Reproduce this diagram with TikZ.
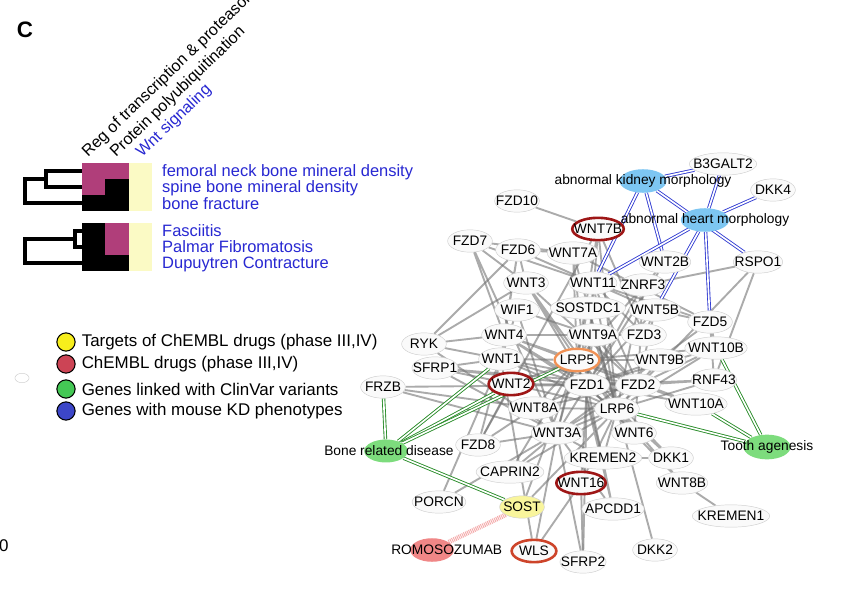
\documentclass[tikz,border=0pt]{standalone}
\usepackage{fontspec}
\setmainfont{Liberation Sans}
\usetikzlibrary{shapes.geometric,backgrounds,positioning}

\definecolor{hmpink}{RGB}{176,62,122}
\definecolor{hmcream}{RGB}{251,250,197}
\definecolor{txtblue}{RGB}{40,40,210}
\definecolor{nodeline}{RGB}{208,208,208}
\definecolor{nodefill}{RGB}{250,250,250}
\definecolor{drugred}{RGB}{158,22,22}
\definecolor{wlsred}{RGB}{205,68,42}
\definecolor{lrporange}{RGB}{240,145,85}
\definecolor{sostyellow}{RGB}{249,245,156}
\definecolor{kdblue}{RGB}{125,198,242}
\definecolor{cvgreen}{RGB}{125,220,125}
\definecolor{romopink}{RGB}{240,135,135}
\definecolor{linkgray}{RGB}{115,115,115}
\definecolor{kdline}{RGB}{50,60,210}
\definecolor{cvline}{RGB}{40,140,40}
\definecolor{legyellow}{RGB}{247,238,28}
\definecolor{legred}{RGB}{204,68,85}
\definecolor{leggreen}{RGB}{68,200,85}
\definecolor{legblue}{RGB}{60,70,200}

\begin{document}
\begin{tikzpicture}[x=0.85pt,y=-0.85pt,
  gene/.style={draw=nodeline, fill=nodefill, shape=ellipse, inner xsep=-5pt,
    inner ysep=0pt, minimum width=38pt, minimum height=19pt,
    font=\fontsize{11.7}{13}\selectfont},
  drug/.style={gene, draw=drugred, line width=2.2pt},
  attr/.style={shape=ellipse, inner sep=0pt, minimum width=40pt, minimum height=20pt},
  attrtext/.style={font=\fontsize{11.7}{13}\selectfont, inner sep=0pt},
  link/.style={draw=linkgray, line width=1.6pt, opacity=0.6},
  kdlink/.style={draw=kdline, double=white, double distance=1.4pt, line width=0.75pt},
  cvlink/.style={draw=cvline, double=white, double distance=1.4pt, line width=0.75pt},
  romolink/.style={draw=romopink, line width=4pt, dash pattern=on 0.8pt off 0.8pt, opacity=0.7},
  rowlabel/.style={anchor=west, inner sep=0pt, text=txtblue, font=\fontsize{14}{16}\selectfont},
  collabel/.style={anchor=base west, inner sep=0pt, rotate=44, font=\fontsize{13.7}{15}\selectfont},
  legdot/.style={draw=black, line width=0.9pt, shape=circle, minimum size=15.5pt, inner sep=0pt},
  legtext/.style={anchor=west, inner sep=0pt, font=\fontsize{14.4}{16}\selectfont}]
\useasboundingbox (0,0) rectangle (860,595);
\begin{pgfonlayer}{background}
\fill[white] (0,0) rectangle (860,595);
\end{pgfonlayer}

\node (panelc) [font=\bfseries\fontsize{19}{20}\selectfont] at (25,30) {C};

% heatmap
\fill[hmpink] (82,163) rectangle (128.7,179);
\fill[hmpink] (82,179) rectangle (105.3,195);
\fill[black] (105.3,179) rectangle (128.7,195);
\fill[black] (82,195) rectangle (128.7,211);
\fill[hmcream] (128.7,163) rectangle (152,211);
\fill[black] (82,223) rectangle (105.3,271);
\fill[hmpink] (105.3,223) rectangle (128.7,255);
\fill[black] (105.3,255) rectangle (128.7,271);
\fill[hmcream] (128.7,223) rectangle (152,271);
\draw[line width=3pt] (82,171) -| (46,187) -- (82,187);
\draw[line width=3pt] (46,179) -| (25,203) -- (82,203);
\draw[line width=3pt] (82,231) -| (75,247) -- (82,247);
\draw[line width=3pt] (75,239) -| (25,263) -- (82,263);

\node (colreg) [collabel] at (88,158) {Reg of transcription \& proteasome};
\node (colpoly) [collabel] at (116,158) {Protein polyubiquitination};
\node (colwnt) [collabel, text=txtblue] at (142,158) {Wnt signaling};

\node (rowfemoral) [rowlabel] at (162,172) {femoral neck bone mineral density};
\node (rowspine) [rowlabel] at (162,188) {spine bone mineral density};
\node (rowfracture) [rowlabel] at (162,204) {bone fracture};
\node (rowfasc) [rowlabel] at (162,231) {Fasciitis};
\node (rowpalmar) [rowlabel] at (162,247) {Palmar Fibromatosis};
\node (rowdupuy) [rowlabel] at (162,264) {Dupuytren Contracture};

% legend
\node (legtarget) [legdot, fill=legyellow] at (66,342) {};
\node (legdrug) [legdot, fill=legred] at (66,364) {};
\node (legclinvar) [legdot, fill=leggreen] at (66,389) {};
\node (legkd) [legdot, fill=legblue] at (66,411) {};
\node [legtext, right=5pt of legtarget] {Targets of ChEMBL drugs (phase III,IV)};
\node [legtext, right=5pt of legdrug] {ChEMBL drugs (phase III,IV)};
\node [legtext, right=5pt of legclinvar] {Genes linked with ClinVar variants};
\node [legtext, right=5pt of legkd] {Genes with mouse KD phenotypes};

\node (blank) [draw=nodeline, fill=white, shape=ellipse, minimum width=12pt,
  minimum height=8pt, inner sep=0pt] at (22,378) {};
\node (axiszero) [anchor=west, inner sep=0pt, font=\fontsize{14.4}{16}\selectfont] at (-1,546) {0};

% network
\node (fzd10) [gene] at (517,201) {FZD10};
\node (fzd7) [gene] at (470,241) {FZD7};
\node (fzd6) [gene] at (518,250) {FZD6};
\node (wnt7a) [gene] at (573,253) {WNT7A};
\node (wnt2b) [gene] at (665,262) {WNT2B};
\node (rspo1) [gene] at (758,262) {RSPO1};
\node (b3galt2) [gene] at (723,164) {B3GALT2};
\node (dkk4) [gene] at (773,190) {DKK4};
\node (wnt3) [gene] at (526,283) {WNT3};
\node (wnt11) [gene] at (593,283) {WNT11};
\node (znrf3) [gene] at (643,285) {ZNRF3};
\node (wif1) [gene] at (517,310) {WIF1};
\node (sostdc1) [gene] at (588,308) {SOSTDC1};
\node (wnt5b) [gene] at (655,310) {WNT5B};
\node (fzd5) [gene] at (710,322) {FZD5};
\node (wnt4) [gene] at (504,335) {WNT4};
\node (wnt9a) [gene] at (593,335) {WNT9A};
\node (fzd3) [gene] at (644,335) {FZD3};
\node (ryk) [gene] at (424,344) {RYK};
\node (wnt10b) [gene] at (716,348) {WNT10B};
\node (wnt1) [gene] at (501,359) {WNT1};
\node (sfrp1) [gene] at (435,368) {SFRP1};
\node (wnt9b) [gene] at (660,360) {WNT9B};
\node (frzb) [gene] at (383,387) {FRZB};
\node (fzd1) [gene] at (587,385) {FZD1};
\node (fzd2) [gene] at (638,385) {FZD2};
\node (rnf43) [gene] at (714,380) {RNF43};
\node (wnt8a) [gene] at (534,408) {WNT8A};
\node (lrp6) [gene] at (617,409) {LRP6};
\node (wnt10a) [gene] at (696,404) {WNT10A};
\node (fzd8) [gene] at (478,445) {FZD8};
\node (wnt3a) [gene] at (557,433) {WNT3A};
\node (wnt6) [gene] at (634,433) {WNT6};
\node (kremen2) [gene] at (603,458) {KREMEN2};
\node (dkk1) [gene] at (671,458) {DKK1};
\node (caprin2) [gene] at (510,472) {CAPRIN2};
\node (wnt8b) [gene] at (682,483) {WNT8B};
\node (porcn) [gene] at (439,502) {PORCN};
\node (apcdd1) [gene] at (613,509) {APCDD1};
\node (kremen1) [gene] at (731,516) {KREMEN1};
\node (sfrp2) [gene] at (583,562) {SFRP2};
\node (dkk2) [gene] at (655,550) {DKK2};
\node (sost) [gene, fill=sostyellow] at (522,507) {SOST};
\node (lrp5) [gene, draw=lrporange, line width=2pt] at (577,360) {LRP5};
\node (wls) [gene, draw=wlsred, line width=2.2pt] at (534,551) {WLS};
\node (wnt7b) [drug] at (598,229) {WNT7B};
\node (wnt2) [drug] at (511,384) {WNT2};
\node (wnt16) [drug] at (581,483) {WNT16};

\node (kidney) [attr, fill=kdblue, label={[attrtext]center:abnormal kidney morphology}] at (643,181) {};
\node (heart) [attr, fill=kdblue, minimum width=41pt, label={[attrtext]center:abnormal heart morphology}] at (705,220) {};
\node (bone) [attr, fill=cvgreen, minimum width=37pt, minimum height=19.5pt,
  label={[attrtext, xshift=2.5pt]center:Bone related disease}] at (386,451) {};
\node (tooth) [attr, fill=cvgreen, minimum height=21pt, label={[attrtext]center:Tooth agenesis}] at (767,447) {};
\node (romo) [attr, fill=romopink, minimum width=37pt,
  label={[attrtext, xshift=12.5pt]center:ROMOSOZUMAB}] at (432,550) {};

\begin{pgfonlayer}{background}
\draw[link] (fzd10) -- (wnt7b);
\draw[link] (fzd7) -- (wnt3) (fzd7) -- (wnt4) (fzd7) -- (wnt11) (fzd7) -- (wnt7a) (fzd7) -- (wnt3a);
\draw[link] (fzd6) -- (wnt7a) (fzd6) -- (wnt11) (fzd6) -- (wnt3) (fzd6) -- (ryk) (fzd6) -- (wnt4) (fzd6) -- (wnt5b) (fzd6) -- (wnt1);
\draw[link] (wnt7a) -- (fzd1) (wnt7a) -- (fzd5) (wnt7a) -- (lrp5) (wnt7a) -- (lrp6);
\draw[link] (wnt7b) -- (fzd1) (wnt7b) -- (lrp5) (wnt7b) -- (lrp6) (wnt7b) -- (fzd3) (wnt7b) -- (fzd8);
\draw[link] (wnt3) -- (fzd1) (wnt3) -- (fzd2) (wnt3) -- (lrp5) (wnt3) -- (lrp6) (wnt3) -- (ryk);
\draw[link] (wnt11) -- (fzd3) (wnt11) -- (fzd5) (wnt11) -- (fzd2) (wnt11) -- (lrp6) (wnt11) -- (fzd1);
\draw[link] (wif1) -- (wnt3a) (wif1) -- (wnt9a) (wif1) -- (wnt1);
\draw[link] (sostdc1) -- (lrp5) (sostdc1) -- (lrp6) (sostdc1) -- (wnt3a);
\draw[link] (ryk) -- (wnt1) (ryk) -- (wnt4) (ryk) -- (wnt3a);
\draw[link] (wnt4) -- (fzd1) (wnt4) -- (fzd2) (wnt4) -- (lrp5) (wnt4) -- (lrp6) (wnt4) -- (fzd3);
\draw[link] (wnt1) -- (fzd1) (wnt1) -- (fzd2) (wnt1) -- (lrp5) (wnt1) -- (lrp6) (wnt1) -- (fzd8) (wnt1) -- (wls);
\draw[link] (sfrp1) -- (wnt1) (sfrp1) -- (wnt2) (sfrp1) -- (fzd1) (sfrp1) -- (wnt3a) (sfrp1) -- (fzd2);
\draw[link] (frzb) -- (wnt8a) (frzb) -- (fzd1) (frzb) -- (wnt3a);
\draw[link] (wnt2) -- (fzd1) (wnt2) -- (lrp5) (wnt2) -- (lrp6) (wnt2) -- (fzd8) (wnt2) -- (fzd2);
\draw[link] (wnt8a) -- (fzd1) (wnt8a) -- (lrp6) (wnt8a) -- (lrp5) (wnt8a) -- (fzd2) (wnt8a) -- (fzd8);
\draw[link] (wnt3a) -- (fzd1) (wnt3a) -- (fzd2) (wnt3a) -- (lrp5) (wnt3a) -- (lrp6) (wnt3a) -- (kremen2) (wnt3a) -- (wls);
\draw[link] (wnt3a) -- (caprin2) (wnt3a) -- (apcdd1) (wnt3a) -- (porcn) (wnt3a) -- (sfrp2) (wnt3a) -- (fzd8);
\draw[link] (wnt6) -- (fzd1) (wnt6) -- (lrp6) (wnt6) -- (fzd2) (wnt6) -- (lrp5);
\draw[link] (kremen2) -- (lrp6) (kremen2) -- (dkk1) (kremen2) -- (lrp5);
\draw[link] (dkk1) -- (lrp6) (dkk1) -- (lrp5) (caprin2) -- (lrp6) (caprin2) -- (lrp5) (porcn) -- (wnt1);
\draw[link] (wnt16) -- (wls) (wnt16) -- (sfrp2) (wnt16) -- (fzd1) (wnt16) -- (lrp6);
\draw[link] (sost) -- (lrp5) (sost) -- (lrp6) (apcdd1) -- (lrp5) (apcdd1) -- (fzd1) (sfrp2) -- (fzd1) (dkk2) -- (lrp6);
\draw[link] (wnt8b) -- (kremen1) (wnt8b) -- (lrp6) (wnt8b) -- (fzd1);
\draw[link] (wnt10a) -- (fzd1) (wnt10a) -- (fzd2) (wnt10a) -- (lrp5);
\draw[link] (wnt10b) -- (fzd2) (wnt10b) -- (lrp5) (wnt10b) -- (fzd1) (wnt10b) -- (fzd5) (wnt10b) -- (lrp6);
\draw[link] (rnf43) -- (fzd2) (rnf43) -- (fzd1) (rnf43) -- (lrp6) (rnf43) -- (rspo1) (rnf43) -- (fzd5);
\draw[link] (wnt9b) -- (fzd1) (wnt9b) -- (lrp6) (wnt9b) -- (lrp5) (wnt9b) -- (fzd2);
\draw[link] (wnt9a) -- (fzd1) (wnt9a) -- (lrp5) (wnt9a) -- (fzd2) (wnt9a) -- (lrp6);
\draw[link] (fzd3) -- (wnt5b) (fzd5) -- (wnt5b) (fzd5) -- (wnt3a) (wnt5b) -- (fzd2) (wnt5b) -- (fzd1);
\draw[link] (znrf3) -- (rspo1) (znrf3) -- (fzd1) (znrf3) -- (lrp6) (znrf3) -- (fzd2);
\draw[link] (wnt2b) -- (fzd1) (wnt2b) -- (lrp5) (rspo1) -- (lrp6);
\draw[kdlink] (kidney) -- (b3galt2);
\draw[kdlink] (kidney) -- (wnt11);
\draw[kdlink] (kidney) -- (wnt2b);
\draw[kdlink] (kidney) -- (rspo1);
\draw[kdlink] (heart) -- (b3galt2);
\draw[kdlink] (heart) -- (dkk4);
\draw[kdlink] (heart) -- (wnt11);
\draw[kdlink] (heart) -- (wnt5b);
\draw[kdlink] (heart) -- (fzd5);
\draw[cvlink] (bone) -- (frzb);
\draw[cvlink] (bone) -- (wnt1);
\draw[cvlink] (bone) -- (wnt2);
\draw[cvlink] (bone) -- (lrp5);
\draw[cvlink] (bone) -- (sost);
\draw[cvlink] (tooth) -- (wnt10b);
\draw[cvlink] (tooth) -- (wnt10a);
\draw[cvlink] (tooth) -- (lrp6);
\draw[romolink] (sost) -- (romo);
\end{pgfonlayer}
\end{tikzpicture}
\end{document}
